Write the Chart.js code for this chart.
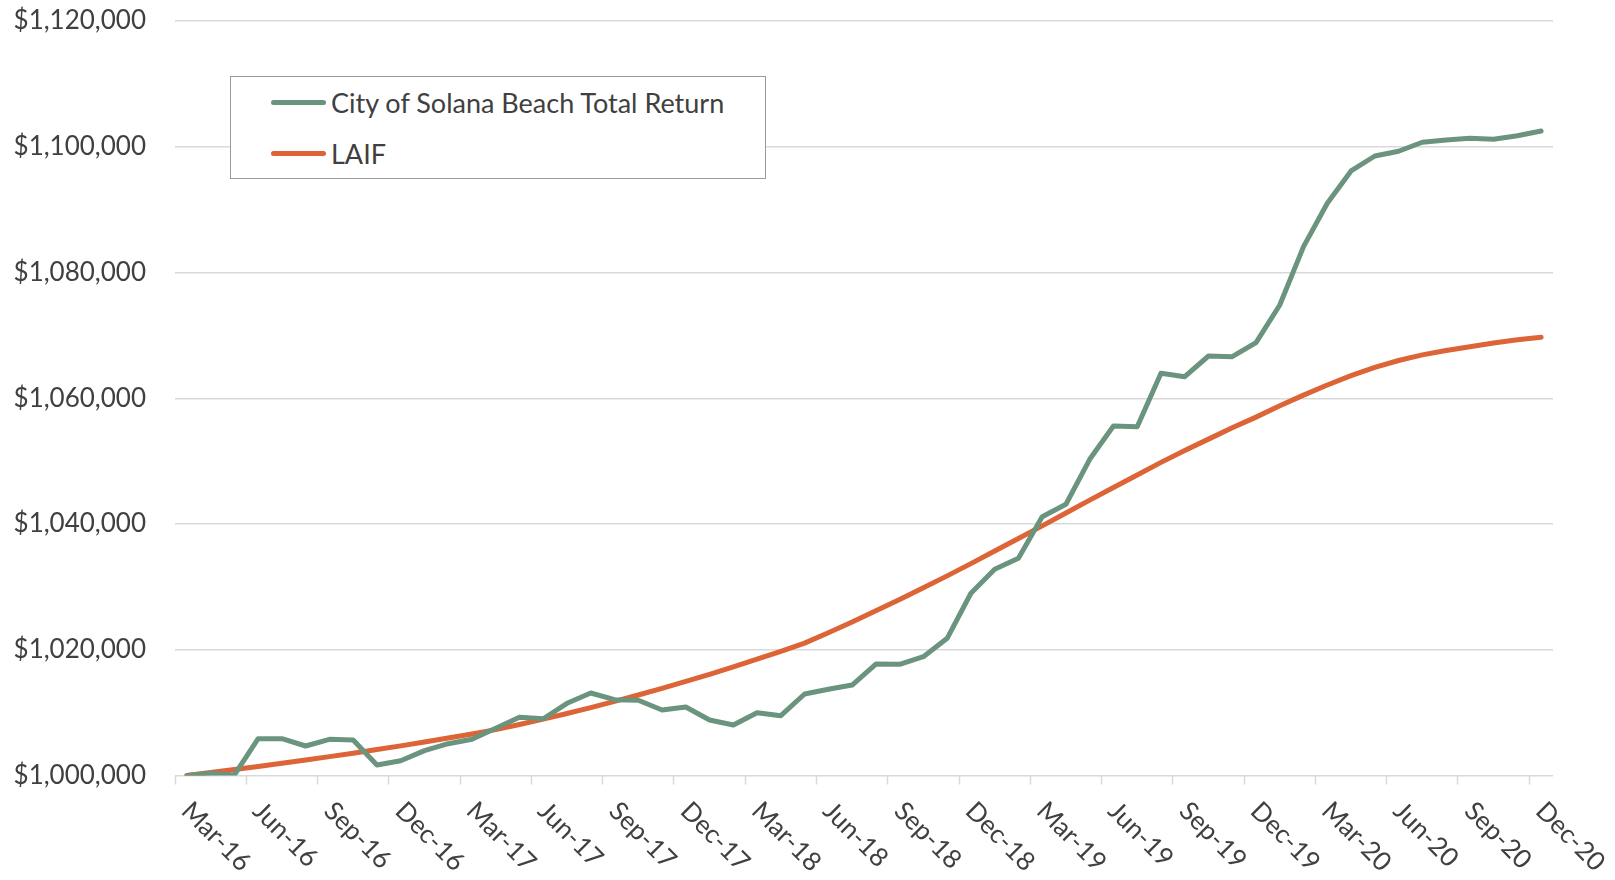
<!DOCTYPE html>
<html>
<head>
<meta charset="utf-8">
<title>Total Return vs LAIF</title>
<script src="https://cdn.jsdelivr.net/npm/chart.js@4/dist/chart.umd.min.js"></script>
<style>
    body { margin: 0; background: #fff; }
    #wrap { position: relative; width: 1615px; height: 880px; }
    .legend {
        position: absolute; left: 230px; top: 76px; width: 534px; height: 101px;
        border: 1px solid #9a9a9a; background: #fff;
        font-family: Lato, sans-serif; font-size: 27px; color: #404040;
    }
    .legend-item { position: absolute; left: 40px; display: flex; align-items: center; height: 30px; }
    .legend-swatch { width: 55px; height: 5px; border-radius: 3px; margin-right: 5px; }
</style>
</head>
<body>
<div id="wrap">
    <canvas id="returnChart"></canvas>
    <div id="legend" class="legend"></div>
</div>
<script>
// Month-end labels, Mar-16 through Dec-20
const months = [
    'Mar-16', 'Apr-16', 'May-16', 'Jun-16', 'Jul-16', 'Aug-16', 'Sep-16', 'Oct-16', 'Nov-16', 'Dec-16',
    'Jan-17', 'Feb-17', 'Mar-17', 'Apr-17', 'May-17', 'Jun-17', 'Jul-17', 'Aug-17', 'Sep-17', 'Oct-17', 'Nov-17', 'Dec-17',
    'Jan-18', 'Feb-18', 'Mar-18', 'Apr-18', 'May-18', 'Jun-18', 'Jul-18', 'Aug-18', 'Sep-18', 'Oct-18', 'Nov-18', 'Dec-18',
    'Jan-19', 'Feb-19', 'Mar-19', 'Apr-19', 'May-19', 'Jun-19', 'Jul-19', 'Aug-19', 'Sep-19', 'Oct-19', 'Nov-19', 'Dec-19',
    'Jan-20', 'Feb-20', 'Mar-20', 'Apr-20', 'May-20', 'Jun-20', 'Jul-20', 'Aug-20', 'Sep-20', 'Oct-20', 'Nov-20', 'Dec-20'
];

// Growth of $1,000,000
const cityTotalReturn = [
    1000000, 1000350, 1000100, 1005850, 1005850, 1004690, 1005760, 1005650, 1001670, 1002350,
    1003950, 1005060, 1005760, 1007500, 1009260, 1009030, 1011480, 1013120, 1012060, 1011960, 1010420, 1010900,
    1008830, 1008030, 1009990, 1009510, 1012960, 1013710, 1014390, 1017730, 1017690, 1018900, 1021820, 1028980,
    1032800, 1034550, 1041160, 1043140, 1050290, 1055590, 1055480, 1063970, 1063430, 1066720, 1066610, 1068840,
    1074830, 1084110, 1091010, 1096150, 1098530, 1099280, 1100710, 1101080, 1101350, 1101190, 1101760, 1102510
];

const laif = [
    1000000, 1000470, 1000950, 1001440, 1001950, 1002470, 1003000, 1003550, 1004120, 1004710,
    1005320, 1005950, 1006610, 1007300, 1008120, 1008970, 1009860, 1010800, 1011780, 1012800, 1013860, 1014960,
    1016100, 1017280, 1018500, 1019760, 1021060, 1022700, 1024400, 1026200, 1028000, 1029850, 1031750, 1033700,
    1035700, 1037700, 1039700, 1041750, 1043800, 1045800, 1047800, 1049800, 1051700, 1053500, 1055300, 1057000,
    1058800, 1060500, 1062100, 1063600, 1064900, 1066000, 1066900, 1067600, 1068200, 1068800, 1069300, 1069700
];

const yMin = 1000000;
const yMax = 1120000;
const yStep = 20000;

const textColor = '#404040';
const gridColor = '#d9d9d9';

Chart.defaults.font.family = 'Lato, sans-serif';
Chart.defaults.font.size = 26;
Chart.defaults.color = textColor;

// Quarter labels slanted down to the right, one every third month
const slantedLabels = {
    id: 'slantedLabels',
    afterDraw(chart) {
        const ctx = chart.ctx;
        const xScale = chart.scales.x;
        ctx.save();
        ctx.font = '26px Lato, sans-serif';
        ctx.fillStyle = textColor;
        ctx.textAlign = 'left';
        ctx.textBaseline = 'middle';
        months.forEach(function(label, i) {
            if (i % 3 !== 0) return;
            const px = xScale.getPixelForValue(i);
            ctx.save();
            ctx.translate(px - 1, xScale.top + 31);
            ctx.rotate(Math.PI / 4);
            ctx.fillText(label, 0, 0);
            ctx.restore();
        });
        ctx.restore();
    }
};

const ctx = document.getElementById('returnChart').getContext('2d');
const chart = new Chart(ctx, {
    type: 'line',
    data: {
        labels: months,
        datasets: [{
            label: 'City of Solana Beach Total Return',
            data: cityTotalReturn,
            borderColor: '#6b947e',
            backgroundColor: '#6b947e',
            borderWidth: 5,
            borderCapStyle: 'round',
            borderJoinStyle: 'round',
            pointRadius: 0,
            tension: 0
        }, {
            label: 'LAIF',
            data: laif,
            borderColor: '#dc6436',
            backgroundColor: '#dc6436',
            borderWidth: 5,
            borderCapStyle: 'round',
            borderJoinStyle: 'round',
            pointRadius: 0,
            tension: 0
        }]
    },
    options: {
        responsive: true,
        maintainAspectRatio: false,
        animation: false,
        layout: {
            padding: { top: 21, right: 62, bottom: 0, left: 0 }
        },
        plugins: {
            legend: { display: false },
            tooltip: { enabled: false }
        },
        scales: {
            x: {
                offset: true,
                grid: {
                    offset: true,
                    drawOnChartArea: false,
                    tickLength: 9,
                    tickWidth: 1.5,
                    tickColor: function(c) {
                        return c.index % 3 === 0 ? gridColor : 'rgba(0,0,0,0)';
                    }
                },
                border: { display: false },
                ticks: { display: false, autoSkip: false },
                afterFit: function(scale) { scale.height = 104.5; }
            },
            y: {
                min: yMin,
                max: yMax,
                grid: { color: gridColor, lineWidth: 1.5, drawTicks: false },
                border: { display: false },
                ticks: {
                    stepSize: yStep,
                    padding: 29,
                    callback: function(value) {
                        return '$' + value.toLocaleString('en-US');
                    }
                },
                afterFit: function(scale) {
                    scale.width = 175;
                    scale.paddingTop = 0;
                    scale.paddingBottom = 0;
                }
            }
        }
    },
    plugins: [slantedLabels]
});

// Boxed legend inside the plot area
const legendEl = document.getElementById('legend');
chart.data.datasets.forEach(function(ds, i) {
    const item = document.createElement('div');
    item.className = 'legend-item';
    item.style.top = (10 + i * 51) + 'px';
    const swatch = document.createElement('span');
    swatch.className = 'legend-swatch';
    swatch.style.background = ds.borderColor;
    const text = document.createElement('span');
    text.textContent = ds.label;
    item.appendChild(swatch);
    item.appendChild(text);
    legendEl.appendChild(item);
});
</script>
</body>
</html>
